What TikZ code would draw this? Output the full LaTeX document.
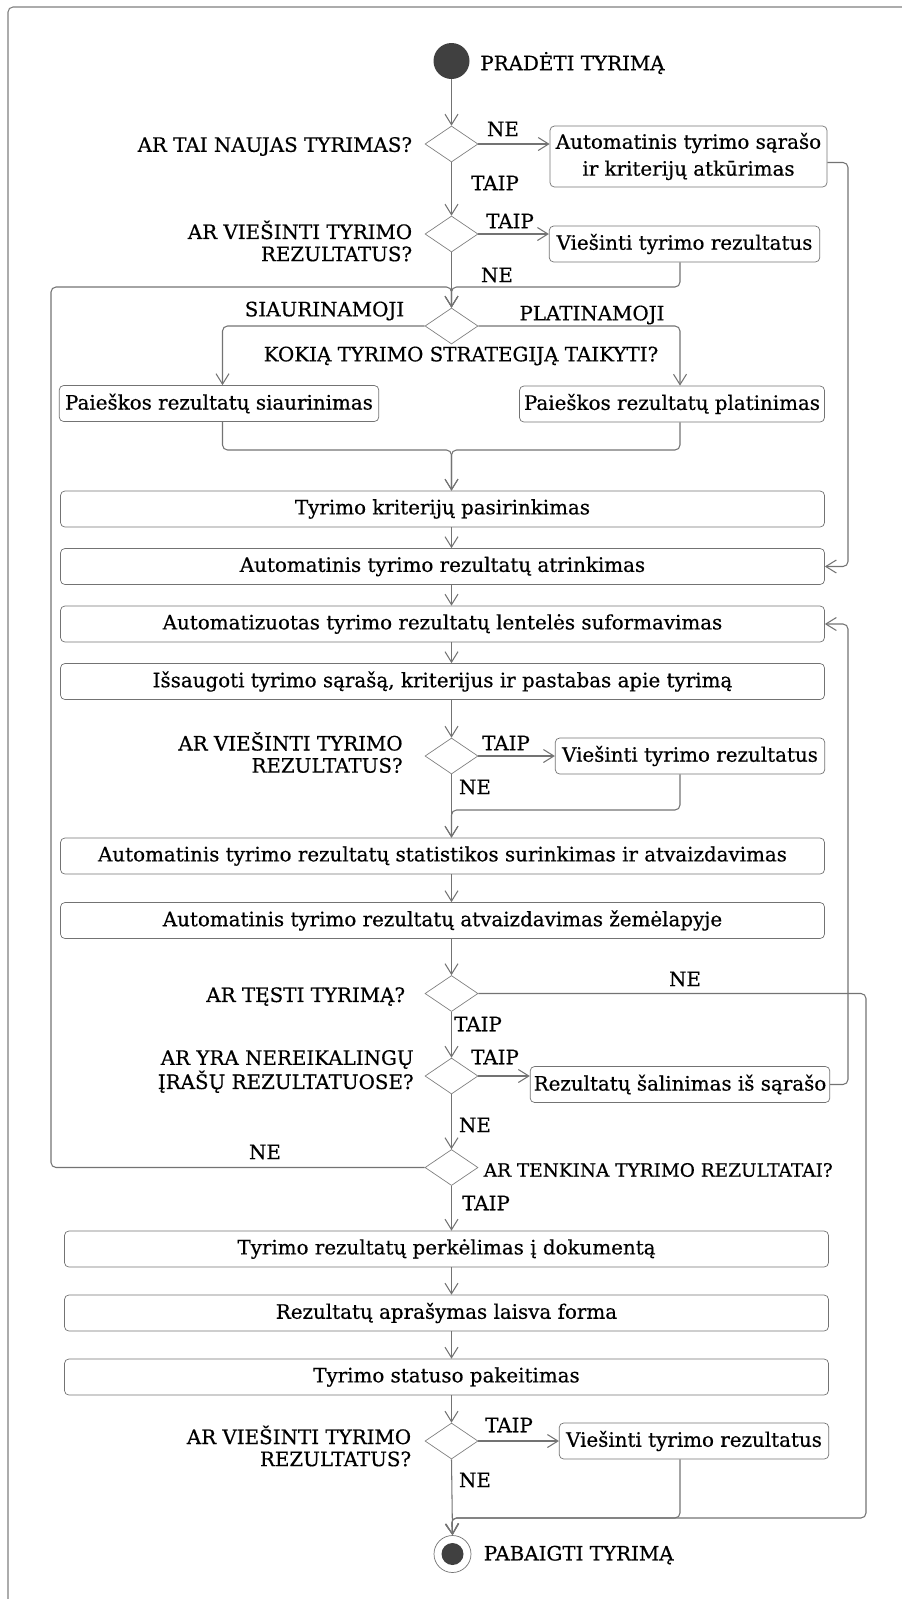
\documentclass[tikz,border=0pt]{standalone}
\usepackage{fontspec}
\setmainfont[FakeBold=0.5]{DejaVu Serif}
\usetikzlibrary{arrows.meta,positioning,shapes.geometric,calc}

\begin{document}
\begin{tikzpicture}[
  font=\fontsize{11.3}{15.3}\selectfont,
  >={Straight Barb[length=2.1mm,width=2.6mm]},
  act/.style={draw=black!55, rounded corners=2.5pt, align=center, minimum height=0.72cm, inner sep=2pt},
  wide/.style={act, minimum width=15.28cm},
  decision/.style={diamond, draw=black!50, minimum width=1.06cm, minimum height=0.72cm, inner sep=0pt},
  startnode/.style={circle, fill=black!75, minimum size=0.72cm, inner sep=0pt},
  endnode/.style={circle, draw=black!55, minimum size=0.74cm, inner sep=0pt, path picture={\fill[black!75] (path picture bounding box.center) circle (0.22cm);}},
  lbl/.style={inner sep=0pt, align=right, font=\fontsize{11.3}{12.6}\selectfont},
  flow/.style={draw=black!55, line width=0.6pt, rounded corners=0.1cm},
  flowarr/.style={flow, ->}
]
  \useasboundingbox (0,0) rectangle (18.04,-31.98);
  \draw[black!50, line width=0.6pt, rounded corners=0.1cm] (0.16,-0.14) rectangle (18.6,-32.6);
  \coordinate (axis) at (9.03,0);

  % Start and first decisions
  \node[startnode] (start) at (9.03,-1.22) {};
  \node[lbl, anchor=west] (startlbl) at (9.6,-1.26) {PRADĖTI TYRIMĄ};
  \node[decision] (d1) at (9.03,-2.88) {};
  \node[lbl, anchor=east] (d1lbl) at (8.25,-2.93) {AR TAI NAUJAS TYRIMAS?};
  \node[act, minimum width=5.54cm, minimum height=1.22cm] (box1) at (13.77,-3.13) {Automatinis tyrimo sąrašo\\ir kriterijų atkūrimas};
  \node[decision] (d2) at (9.03,-4.68) {};
  \node[lbl, anchor=east] (d2lbl) at (8.25,-4.82) {AR VIEŠINTI TYRIMO\\REZULTATUS?};
  \node[act, minimum width=5.41cm] (box2) at (13.69,-4.88) {Viešinti tyrimo rezultatus};
  \coordinate (join1) at (9.03,-5.74);
  \coordinate (lft) at (1.02,-5.74);

  % Strategy branch
  \node[decision] (d3) at (9.03,-6.52) {};
  \node[lbl] (sialbl) at (6.49,-6.22) {SIAURINAMOJI};
  \node[lbl] (plalbl) at (11.84,-6.3) {PLATINAMOJI};
  \node[lbl] (d3lbl) at (9.22,-7.12) {KOKIĄ TYRIMO STRATEGIJĄ TAIKYTI?};
  \node[act, minimum width=6.39cm] (sia) at (4.38,-8.07) {Paieškos rezultatų siaurinimas};
  \node[act, minimum width=6.1cm] (pla) at (13.44,-8.08) {Paieškos rezultatų platinimas};
  \coordinate (join2) at (9.03,-9.0);

  % Main column
  \node[wide] (krit) at (8.85,-10.18) {Tyrimo kriterijų pasirinkimas};
  \node[wide] (atr) at (8.85,-11.33) {Automatinis tyrimo rezultatų atrinkimas};
  \node[wide] (lent) at (8.85,-12.48) {Automatizuotas tyrimo rezultatų lentelės suformavimas};
  \node[wide] (isv) at (8.85,-13.63) {Išsaugoti tyrimo sąrašą, kriterijus ir pastabas apie tyrimą};
  \node[decision] (d4) at (9.03,-15.12) {};
  \node[lbl, anchor=east] (d4lbl) at (8.06,-15.05) {AR VIEŠINTI TYRIMO\\REZULTATUS?};
  \node[act, minimum width=5.39cm] (box4) at (13.8,-15.12) {Viešinti tyrimo rezultatus};
  \coordinate (join3) at (9.03,-16.2);
  \node[wide] (stat) at (8.85,-17.12) {Automatinis tyrimo rezultatų statistikos surinkimas ir atvaizdavimas};
  \node[wide] (zem) at (8.85,-18.41) {Automatinis tyrimo rezultatų atvaizdavimas žemėlapyje};

  % Loop decisions
  \node[decision] (d5) at (9.03,-19.87) {};
  \node[lbl, anchor=east] (d5lbl) at (8.11,-19.93) {AR TĘSTI TYRIMĄ?};
  \node[decision] (d6) at (9.03,-21.52) {};
  \node[lbl, anchor=east] (d6lbl) at (8.28,-21.43) {AR YRA NEREIKALINGŲ\\ĮRAŠŲ REZULTATUOSE?};
  \node[act, minimum width=5.99cm] (sal) at (13.6,-21.69) {Rezultatų šalinimas iš sąrašo};
  \node[decision] (d7) at (9.03,-23.35) {};
  \node[lbl, anchor=west, font=\fontsize{10.5}{12}\selectfont] (d7lbl) at (9.67,-23.4) {AR TENKINA TYRIMO REZULTATAI?};

  % Closing steps
  \node[wide] (perk) at (8.93,-24.98) {Tyrimo rezultatų perkėlimas į dokumentą};
  \node[wide] (apr) at (8.93,-26.26) {Rezultatų aprašymas laisva forma};
  \node[wide] (stat2) at (8.93,-27.54) {Tyrimo statuso pakeitimas};
  \node[decision] (d8) at (9.03,-28.82) {};
  \node[lbl, anchor=east] (d8lbl) at (8.23,-28.92) {AR VIEŠINTI TYRIMO\\REZULTATUS?};
  \node[act, minimum width=5.39cm] (box8) at (13.88,-28.82) {Viešinti tyrimo rezultatus};
  \coordinate (join4) at (9.03,-30.36);
  \node[endnode] (finish) at (9.05,-31.08) {};
  \node[lbl, anchor=west] (finishlbl) at (9.67,-31.1) {PABAIGTI TYRIMĄ};

  % Guard labels
  \node[lbl] (g1) at (10.06,-2.58) {NE};
  \node[lbl] (g2) at (9.9,-3.66) {TAIP};
  \node[lbl] (g3) at (10.2,-4.42) {TAIP};
  \node[lbl] (g4) at (9.94,-5.5) {NE};
  \node[lbl] (g5) at (10.12,-14.86) {TAIP};
  \node[lbl] (g6) at (9.5,-15.74) {NE};
  \node[lbl] (g7) at (13.7,-19.58) {NE};
  \node[lbl] (g8) at (9.56,-20.48) {TAIP};
  \node[lbl] (g9) at (9.9,-21.14) {TAIP};
  \node[lbl] (g10) at (9.5,-22.5) {NE};
  \node[lbl] (g11) at (5.3,-23.04) {NE};
  \node[lbl] (g12) at (9.72,-24.06) {TAIP};
  \node[lbl] (g13) at (10.18,-28.5) {TAIP};
  \node[lbl] (g14) at (9.5,-29.6) {NE};

  % Top part
  \draw[flowarr] (start) -- (d1);
  \draw[flowarr] (d1.east) -- (d1.east -| box1.west);
  \draw[flowarr] (d1.south) -- (d2.north);
  \draw[flowarr] (d2.east) -- (d2.east -| box2.west);
  \draw[flowarr] (d2.south) -- (d3.north);
  \draw[flowarr] (13.6,0 |- box2.south) |- (join1) -- (d3.north);
  \draw[flowarr] (d7.west) -| (lft) -- (join1) -- (d3.north);

  % Strategy branch
  \draw[flowarr] (d3.west) -| (4.45,0 |- sia.north);
  \draw[flowarr] (d3.east) -| (13.6,0 |- pla.north);
  \draw[flowarr] (4.45,0 |- sia.south) |- (join2) -- (krit.north -| axis);
  \draw[flowarr] (13.6,0 |- pla.south) |- (join2) -- (krit.north -| axis);

  % Main column
  \draw[flowarr] (krit.south -| axis) -- (atr.north -| axis);
  \draw[flowarr] ([yshift=-0.12cm]box1.east) -| (16.96,0 |- atr.east) -- (atr.east);
  \draw[flowarr] (atr.south -| axis) -- (lent.north -| axis);
  \draw[flowarr] (lent.south -| axis) -- (isv.north -| axis);
  \draw[flowarr] (isv.south -| axis) -- (d4.north);
  \draw[flowarr] (d4.east) -- (d4.east -| box4.west);
  \draw[flowarr] (d4.south) -- (stat.north -| axis);
  \draw[flowarr] (13.6,0 |- box4.south) |- (join3) -- (stat.north -| axis);
  \draw[flowarr] (stat.south -| axis) -- (zem.north -| axis);
  \draw[flowarr] (zem.south -| axis) -- (d5.north);

  % Loops
  \draw[flowarr] (d5) -- (d6);
  \draw[flowarr] (d6.east) -- (d6.east -| sal.west);
  \draw[flowarr] (sal.east) -| (16.96,0 |- lent.east) -- (lent.east);
  \draw[flowarr] (d6) -- (d7);
  \draw[flowarr] (d5.east) -| (17.32,0 |- join4) -- (join4) -- (finish.north);

  % Closing steps
  \draw[flowarr] (d7.south) -- (perk.north -| axis);
  \draw[flowarr] (perk.south -| axis) -- (apr.north -| axis);
  \draw[flowarr] (apr.south -| axis) -- (stat2.north -| axis);
  \draw[flowarr] (stat2.south -| axis) -- (d8.north);
  \draw[flowarr] (d8.east) -- (d8.east -| box8.west);
  \draw[flowarr] (d8.south) -- (finish.north);
  \draw[flowarr] (13.6,0 |- box8.south) |- (join4) -- (finish.north);
\end{tikzpicture}
\end{document}
